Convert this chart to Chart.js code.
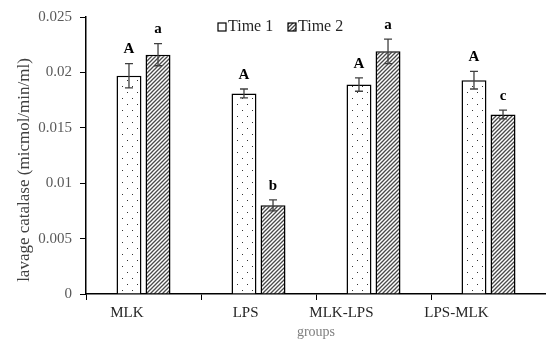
<!DOCTYPE html>
<html>
<head>
<meta charset="utf-8">
<script src="https://cdn.jsdelivr.net/npm/chart.js@4.4.0/dist/chart.umd.min.js"></script>
<style>
  html, body { margin: 0; padding: 0; background: #fff; }
  #wrap { width: 546px; height: 341px; }
</style>
</head>
<body>
<div id="wrap"><canvas id="myChart"></canvas></div>
<script>
// data
var groups = ["MLK", "LPS", "MLK-LPS", "LPS-MLK"];
var time1 = [0.0197, 0.0181, 0.0189, 0.0193];
var time2 = [0.0216, 0.0080, 0.0219, 0.0162];
var err1 = [0.0011, 0.0004, 0.0006, 0.0008];
var err2 = [0.0010, 0.0005, 0.0011, 0.0004];
var letters1 = ["A", "A", "A", "A"];
var letters2 = ["a", "b", "a", "c"];
var yTicks = [0, 0.005, 0.01, 0.015, 0.02, 0.025];
var yTitle = 'lavage catalase (micmol/min/ml)';

var serif = "'Liberation Serif', 'Times New Roman', serif";

// fill patterns
function dotPattern() {
    var c = document.createElement('canvas');
    c.width = 10; c.height = 12;
    var g = c.getContext('2d');
    g.fillStyle = '#fff';
    g.fillRect(0, 0, 10, 12);
    g.fillStyle = '#333';
    g.fillRect(2, 2, 1, 1);
    g.fillRect(7, 8, 1, 1);
    return g.createPattern(c, 'repeat');
}
function hatchPattern() {
    var c = document.createElement('canvas');
    c.width = 4; c.height = 4;
    var g = c.getContext('2d');
    g.fillStyle = '#fff';
    g.fillRect(0, 0, 4, 4);
    g.strokeStyle = '#4a4a4a';
    g.lineWidth = 1.3;
    g.beginPath();
    g.moveTo(-1, 5); g.lineTo(5, -1);
    g.moveTo(-1, 1); g.lineTo(1, -1);
    g.moveTo(3, 5); g.lineTo(5, 3);
    g.stroke();
    return g.createPattern(c, 'repeat');
}
var dots = dotPattern();
var hatch = hatchPattern();

// error bars, letters, legend and y title
var extrasPlugin = {
    id: 'extras',
    afterDatasetsDraw: function(chart) {
        var ctx = chart.ctx;
        var y = chart.scales.y;
        var sets = [[time1, err1, letters1], [time2, err2, letters2]];
        ctx.save();
        sets.forEach(function(s, di) {
            var meta = chart.getDatasetMeta(di);
            meta.data.forEach(function(bar, i) {
                var top = y.getPixelForValue(s[0][i] + s[1][i]);
                var bot = y.getPixelForValue(s[0][i] - s[1][i]);
                ctx.strokeStyle = '#404040';
                ctx.lineWidth = 1.3;
                ctx.beginPath();
                ctx.moveTo(bar.x, top); ctx.lineTo(bar.x, bot);
                ctx.moveTo(bar.x - 4, top); ctx.lineTo(bar.x + 4, top);
                ctx.moveTo(bar.x - 4, bot); ctx.lineTo(bar.x + 4, bot);
                ctx.stroke();
                ctx.fillStyle = '#000';
                ctx.font = 'bold 15px ' + serif;
                ctx.textAlign = 'center';
                ctx.textBaseline = 'middle';
                ctx.fillText(s[2][i], bar.x, top - 14);
            });
        });
        // legend
        var items = [['Time 1', '#fff', 218], ['Time 2', hatch, 288]];
        ctx.font = '16px ' + serif;
        ctx.textAlign = 'left';
        ctx.textBaseline = 'middle';
        items.forEach(function(it) {
            ctx.fillStyle = it[1];
            ctx.fillRect(it[2], 23, 8, 8);
            ctx.strokeStyle = '#000';
            ctx.lineWidth = 1.2;
            ctx.strokeRect(it[2], 23, 8, 8);
            ctx.fillStyle = '#262626';
            ctx.fillText(it[0], it[2] + 10, 27);
        });
        // y axis title
        ctx.translate(25, 170);
        ctx.rotate(-Math.PI / 2);
        ctx.font = '17px ' + serif;
        ctx.textAlign = 'center';
        ctx.fillStyle = '#404040';
        ctx.fillText(yTitle, 0, 0);
        ctx.restore();
    }
};

var ctx = document.getElementById('myChart').getContext('2d');
var myChart = new Chart(ctx, {
    type: 'bar',
    data: {
        labels: groups,
        datasets: [{
            label: 'Time 1',
            data: time1,
            backgroundColor: dots,
            borderColor: '#000',
            borderWidth: 1.5,
            barPercentage: 0.86,
            categoryPercentage: 0.505
        }, {
            label: 'Time 2',
            data: time2,
            backgroundColor: hatch,
            borderColor: '#000',
            borderWidth: 1.5,
            barPercentage: 0.86,
            categoryPercentage: 0.505
        }]
    },
    options: {
        responsive: true,
        maintainAspectRatio: false,
        animation: false,
        layout: { padding: { top: 16, right: 0, left: 0, bottom: 0 } },
        plugins: {
            legend: { display: false },
            tooltip: { enabled: false }
        },
        scales: {
            x: {
                grid: { display: true, drawOnChartArea: false, offset: true, tickLength: 6, color: '#000' },
                border: { color: '#000', width: 1.5 },
                ticks: { color: '#262626', align: 'end', font: { family: serif, size: 15 }, padding: 4 },
                title: { display: true, text: 'groups', color: '#7f7f7f', font: { family: serif, size: 14 }, padding: { top: 5, bottom: 0 } },
                afterFit: function(s) { s.height = 47; }
            },
            y: {
                min: 0,
                max: 0.025,
                afterBuildTicks: function(s) { s.ticks = yTicks.map(function(v) { return { value: v }; }); },
                grid: { display: true, drawOnChartArea: false, tickLength: 6, color: '#000' },
                border: { color: '#000', width: 1.5 },
                ticks: {
                    color: '#595959',
                    font: { family: serif, size: 15 },
                    padding: 8,
                    callback: function(v) { return String(v); }
                },
                afterFit: function(s) { s.width = 86; }
            }
        }
    },
    plugins: [extrasPlugin]
});
</script>
</body>
</html>
